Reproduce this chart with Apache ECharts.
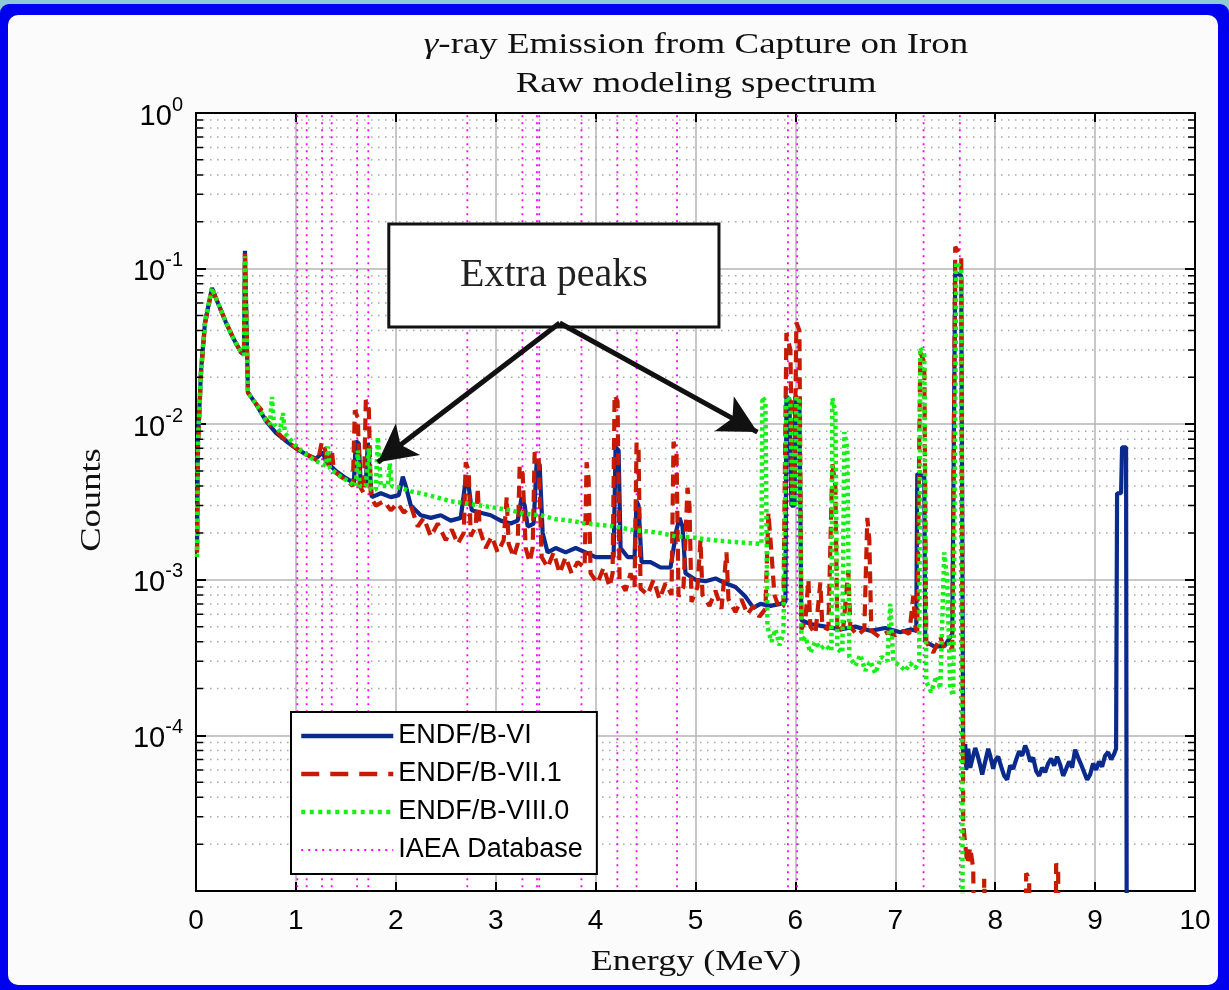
<!DOCTYPE html>
<html>
<head>
<meta charset="utf-8">
<script src="https://cdn.jsdelivr.net/npm/echarts@6/dist/echarts.min.js"></script>
<style>
  html, body { margin: 0; padding: 0; width: 1229px; height: 990px; overflow: hidden; background: #8ecad6; }
  #frame { position: absolute; left: 0; top: 4px; width: 1229px; height: 986px; background: #0000f0; border-radius: 9px 9px 0 0; }
  #paper { position: absolute; left: 8px; top: 15px; width: 1210px; height: 970px; background: #fbfbfb; border-radius: 10px; }
  #chart { position: absolute; left: 0; top: 0; width: 1229px; height: 990px; }
</style>
</head>
<body>
<div id="frame"></div>
<div id="paper"></div>
<div id="chart"></div>
<script>
// ---- Spectra: [energy (MeV), counts] ----
const endfB6 = [
  [0.01,1.5e-3],[0.02,8e-3],[0.05,0.022],[0.09,0.045],[0.16,0.075],[0.22,0.06],[0.30,0.045],[0.38,0.035],
  [0.45,0.029],[0.48,0.028],[0.49,0.13],[0.51,0.13],[0.52,0.016],[0.60,0.0135],[0.70,0.0105],[0.80,0.0088],
  [0.90,0.0078],[1.00,0.0070],[1.10,0.0064],[1.20,0.0060],[1.27,0.0066],[1.30,0.0058],[1.40,0.0050],[1.50,0.0045],
  [1.58,0.0042],[1.60,0.0078],[1.63,0.0075],[1.65,0.0040],[1.70,0.0042],[1.72,0.0076],[1.74,0.0050],[1.76,0.0034],
  [1.85,0.0036],[1.95,0.0034],[2.03,0.0035],[2.07,0.0046],[2.10,0.0040],[2.15,0.0030],[2.25,0.0026],[2.35,0.0025],
  [2.45,0.0026],[2.55,0.0024],[2.65,0.0025],[2.70,0.0044],[2.73,0.0040],[2.76,0.0028],[2.85,0.0027],[2.95,0.0026],
  [3.05,0.0024],[3.15,0.0023],[3.22,0.0024],[3.26,0.0034],[3.29,0.0030],[3.32,0.0022],[3.38,0.0023],[3.41,0.0057],
  [3.44,0.0055],[3.47,0.0020],[3.52,0.0015],[3.60,0.0016],[3.70,0.0015],[3.80,0.0016],[3.90,0.0015],[4.00,0.0014],
  [4.10,0.0014],[4.18,0.0014],[4.20,0.0071],[4.23,0.0068],[4.25,0.0016],[4.32,0.0014],[4.39,0.0014],[4.41,0.0032],
  [4.43,0.0030],[4.46,0.0013],[4.55,0.0013],[4.65,0.0012],[4.75,0.0012],[4.81,0.0021],[4.84,0.0025],[4.87,0.0022],
  [4.90,0.0011],[5.00,0.0010],[5.10,0.00098],[5.20,0.00102],[5.30,0.00095],[5.40,0.00090],[5.50,0.00078],[5.58,0.00066],
  [5.65,0.00070],[5.75,0.00068],[5.85,0.00070],[5.90,0.00072],[5.91,0.0150],[5.94,0.0145],[5.96,0.0030],[5.99,0.0030],
  [6.00,0.0150],[6.04,0.0140],[6.06,0.00055],[6.15,0.00052],[6.30,0.00050],[6.45,0.00048],[6.60,0.00050],[6.75,0.00047],
  [6.90,0.00049],[7.05,0.00046],[7.15,0.00048],[7.21,0.00047],[7.22,0.0048],[7.29,0.0046],[7.30,0.00040],[7.40,0.00037],
  [7.50,0.00038],[7.57,0.00045],[7.60,0.094],[7.66,0.090],[7.68,7.5e-5],[7.70,8.8e-5],[7.71,6.0e-5],[7.73,8.2e-5],
  [7.75,6.2e-5],[7.77,7.0e-5],[7.80,8.3e-5],[7.82,7.6e-5],[7.85,6.4e-5],[7.87,5.6e-5],[7.90,6.8e-5],[7.93,8.2e-5],
  [7.95,7.4e-5],[7.98,6.1e-5],[8.00,6.9e-5],[8.03,7.3e-5],[8.06,6.3e-5],[8.09,5.5e-5],[8.12,5.2e-5],[8.15,6.4e-5],
  [8.18,6.1e-5],[8.21,7.0e-5],[8.24,7.9e-5],[8.27,7.4e-5],[8.30,8.6e-5],[8.32,8.0e-5],[8.35,6.8e-5],[8.38,7.2e-5],
  [8.41,5.9e-5],[8.44,5.5e-5],[8.47,6.2e-5],[8.50,5.8e-5],[8.53,6.6e-5],[8.56,7.1e-5],[8.59,6.4e-5],[8.62,7.3e-5],
  [8.65,6.5e-5],[8.68,5.5e-5],[8.71,6.1e-5],[8.74,6.8e-5],[8.77,6.2e-5],[8.80,8.1e-5],[8.83,7.2e-5],[8.86,6.5e-5],
  [8.89,5.8e-5],[8.92,5.2e-5],[8.95,5.6e-5],[8.98,6.6e-5],[9.01,6.0e-5],[9.04,6.8e-5],[9.07,6.3e-5],[9.10,7.4e-5],
  [9.13,7.8e-5],[9.16,7.0e-5],[9.19,7.6e-5],[9.21,8.2e-5],[9.22,3.6e-3],[9.26,3.6e-3],[9.27,7.1e-3],[9.31,7.1e-3],
  [9.32,1e-7]
];

const endfB71 = [
  [0.01,1.5e-3],[0.02,7e-3],[0.05,0.021],[0.09,0.044],[0.16,0.074],[0.22,0.06],[0.30,0.045],[0.38,0.035],
  [0.45,0.029],[0.48,0.028],[0.49,0.125],[0.51,0.125],[0.52,0.016],[0.60,0.0135],[0.65,0.0125],[0.68,0.0112],
  [0.75,0.0098],[0.85,0.0084],[0.95,0.0074],[1.05,0.0067],[1.15,0.0062],[1.22,0.0058],[1.26,0.0077],[1.29,0.0070],
  [1.32,0.0054],[1.36,0.0068],[1.38,0.0050],[1.45,0.0046],[1.52,0.0043],[1.57,0.0040],[1.59,0.0123],[1.62,0.0110],
  [1.64,0.0040],[1.68,0.0036],[1.70,0.0143],[1.73,0.0125],[1.75,0.0034],[1.80,0.0030],[1.88,0.0032],[1.95,0.0028],
  [2.02,0.0031],[2.08,0.0027],[2.15,0.0030],[2.22,0.0022],[2.28,0.0025],[2.35,0.0019],[2.42,0.0023],[2.50,0.0018],
  [2.56,0.0021],[2.62,0.0017],[2.68,0.0020],[2.70,0.0057],[2.73,0.0050],[2.75,0.0019],[2.80,0.0022],[2.82,0.0039],
  [2.84,0.0021],[2.90,0.0016],[2.96,0.0019],[3.02,0.0015],[3.08,0.0018],[3.11,0.0034],[3.13,0.0017],[3.18,0.0014],
  [3.22,0.0017],[3.24,0.0054],[3.27,0.0048],[3.30,0.0016],[3.34,0.0013],[3.37,0.0016],[3.39,0.0066],[3.43,0.0060],
  [3.46,0.0014],[3.52,0.0012],[3.58,0.0015],[3.64,0.0011],[3.70,0.0014],[3.76,0.0011],[3.82,0.0013],[3.89,0.0012],
  [3.91,0.0057],[3.93,0.0045],[3.95,0.0011],[4.02,0.00095],[4.08,0.0012],[4.14,0.00090],[4.17,0.0011],[4.19,0.0154],
  [4.22,0.0140],[4.24,0.0010],[4.30,0.00085],[4.35,0.0011],[4.39,0.0009],[4.41,0.0076],[4.43,0.0068],[4.45,0.00088],
  [4.52,0.00080],[4.58,0.0010],[4.64,0.00075],[4.70,0.00095],[4.76,0.00080],[4.78,0.0077],[4.81,0.0065],[4.83,0.00078],
  [4.88,0.0009],[4.92,0.0039],[4.94,0.0030],[4.96,0.00072],[5.02,0.0009],[5.05,0.0018],[5.07,0.00080],[5.14,0.00068],
  [5.20,0.00085],[5.26,0.00065],[5.31,0.0015],[5.33,0.00075],[5.40,0.00062],[5.46,0.00075],[5.52,0.00060],[5.58,0.00068],
  [5.64,0.00058],[5.70,0.00065],[5.73,0.0027],[5.76,0.0015],[5.79,0.0008],[5.84,0.00065],[5.88,0.00068],[5.91,0.0386],
  [5.95,0.030],[5.97,0.0035],[5.99,0.0040],[6.01,0.045],[6.04,0.040],[6.06,0.00048],[6.10,0.00055],[6.13,0.0010],
  [6.15,0.00050],[6.20,0.00045],[6.25,0.00096],[6.27,0.00050],[6.33,0.00048],[6.37,0.0056],[6.40,0.0040],[6.42,0.00046],
  [6.48,0.00050],[6.53,0.00115],[6.55,0.00050],[6.62,0.00044],[6.69,0.00048],[6.72,0.0025],[6.74,0.0018],[6.76,0.00047],
  [6.84,0.00043],[6.92,0.00046],[7.00,0.00044],[7.08,0.00047],[7.14,0.00045],[7.18,0.00079],[7.20,0.00050],[7.22,0.00046],
  [7.25,0.029],[7.29,0.025],[7.31,0.00040],[7.38,0.00034],[7.45,0.00043],[7.50,0.00035],[7.57,0.00036],[7.60,0.138],
  [7.66,0.120],[7.68,2.7e-5],[7.70,2.0e-5],[7.72,1.5e-5],[7.75,1.9e-5],[7.78,1.4e-5],[7.80,1e-6],[7.88,1e-6],
  [7.89,1.2e-5],[7.91,1.2e-5],[7.92,1e-6],[8.30,1e-6],[8.31,1.3e-5],[8.34,1.2e-5],[8.35,1e-6],[8.60,1e-6],
  [8.61,1.5e-5],[8.63,1.4e-5],[8.64,1e-6],[10.0,1e-6]
];

const endfB80 = [
  [0.01,1.4e-3],[0.02,8e-3],[0.05,0.022],[0.09,0.046],[0.16,0.075],[0.22,0.06],[0.30,0.045],[0.38,0.035],
  [0.45,0.029],[0.48,0.028],[0.49,0.12],[0.51,0.12],[0.52,0.016],[0.60,0.0135],[0.70,0.0106],[0.74,0.0100],
  [0.76,0.0150],[0.78,0.0100],[0.84,0.0090],[0.87,0.0118],[0.89,0.0088],[1.00,0.0072],[1.10,0.0064],[1.20,0.0058],
  [1.30,0.0054],[1.32,0.0072],[1.34,0.0052],[1.45,0.0046],[1.55,0.0042],[1.60,0.0040],[1.62,0.0068],[1.64,0.0040],
  [1.70,0.0040],[1.73,0.0070],[1.75,0.0038],[1.80,0.0038],[1.82,0.0083],[1.85,0.0040],[1.92,0.0040],[1.94,0.0056],
  [1.96,0.0040],[2.05,0.0039],[2.15,0.0037],[2.25,0.0036],[2.40,0.0034],[2.55,0.0032],[2.70,0.0031],[2.85,0.0030],
  [3.00,0.0029],[3.15,0.0028],[3.30,0.00265],[3.45,0.0026],[3.60,0.00245],[3.75,0.0024],[3.90,0.0023],[4.05,0.00225],
  [4.20,0.0022],[4.35,0.0021],[4.50,0.00205],[4.65,0.0020],[4.80,0.0019],[4.95,0.00188],[5.10,0.00182],[5.25,0.00178],
  [5.40,0.00175],[5.55,0.00172],[5.66,0.0017],[5.67,0.0150],[5.70,0.0140],[5.72,0.00050],[5.76,0.00040],[5.80,0.00048],
  [5.84,0.00038],[5.88,0.00045],[5.91,0.0150],[5.95,0.0140],[5.97,0.0030],[6.00,0.0030],[6.01,0.0150],[6.04,0.0140],
  [6.06,0.00040],[6.10,0.00043],[6.15,0.00034],[6.20,0.00040],[6.25,0.00036],[6.30,0.00038],[6.36,0.00035],[6.37,0.0147],
  [6.40,0.0120],[6.42,0.00036],[6.47,0.00034],[6.49,0.0089],[6.52,0.0070],[6.54,0.00032],[6.60,0.00028],[6.65,0.00033],
  [6.70,0.00026],[6.75,0.00030],[6.80,0.00025],[6.86,0.00032],[6.92,0.00030],[6.95,0.0007],[6.98,0.00030],[7.05,0.00028],
  [7.10,0.00026],[7.15,0.00029],[7.20,0.00027],[7.24,0.00030],[7.25,0.031],[7.29,0.028],[7.31,0.00022],[7.36,0.00019],
  [7.41,0.00024],[7.45,0.00020],[7.49,0.0015],[7.52,0.0010],[7.55,0.00020],[7.58,0.00018],[7.61,0.11],[7.66,0.10],
  [7.68,1e-7]
];

// IAEA capture gamma energies (MeV)
const iaeaLines = [1.014, 1.108, 1.262, 1.358, 1.613, 1.725, 2.716, 3.268, 3.413, 3.436, 3.858,
                   4.218, 4.410, 4.815, 5.925, 6.018, 7.283, 7.646];

const seriesNames = ['ENDF/B-VI', 'ENDF/B-VII.1', 'ENDF/B-VIII.0', 'IAEA Database'];
const xTicks = [0, 1, 2, 3, 4, 5, 6, 7, 8, 9, 10];
const yDecades = [1e-5, 1e-4, 1e-3, 1e-2, 1e-1, 1];

// "Extra peaks" callout, in data coordinates
const calloutBox = [[1.93, 0.1934], [5.235, 0.0421]];
const calloutFrom = [3.64, 0.0447];
const calloutTargets = [[1.82, 5.7e-3], [5.62, 8.9e-3]];

// ---- helpers building line segments for grid / reference lines ----
const xMin = xTicks[0], xMax = xTicks[xTicks.length - 1];
const yMin = yDecades[0], yMax = yDecades[yDecades.length - 1];
const minorValues = [];
for (let d = 0; d < yDecades.length - 1; d++) {
  for (let k = 2; k <= 9; k++) minorValues.push(k * yDecades[d]);
}
const minorGridData = [];
const minorTickData = [];
minorValues.forEach(v => {
  minorGridData.push([xMin, v], [xMax, v], [xMin, '-']);
  minorTickData.push([xMin, v], [xMin + 0.07, v], [xMin, '-'], [xMax - 0.07, v], [xMax, v], [xMax, '-']);
});
const iaeaData = [];
iaeaLines.forEach(e => iaeaData.push([e, 1e-7], [e, 10], [e, '-']));

const sans = 'Liberation Sans';
const serif = 'Liberation Serif';

const chart = echarts.init(document.getElementById('chart'), null, { renderer: 'canvas' });

const valueAxisCommon = {
  min: xMin, max: xMax, interval: 1,
  axisLine: { show: true, onZero: false, lineStyle: { color: '#000', width: 2 } },
  axisTick: { show: true, inside: true, length: 9, lineStyle: { color: '#000', width: 2 } }
};

// legend samples: heavier strokes than the plotted curves
const legendLines = [
  { width: 4.5, type: 'solid' },
  { width: 4.5, type: [18, 11] },
  { width: 4.5, type: [4, 4.5] },
  { width: 2, type: [2, 5] }
];

const option = {
  animation: false,
  backgroundColor: 'transparent',
  grid: { left: 196, right: 34, top: 113, bottom: 99, containLabel: false, outerBoundsMode: 'none',
          show: true, backgroundColor: '#ffffff', borderWidth: 0 },
  xAxis: [
    Object.assign({ type: 'value', position: 'bottom',
      axisLabel: { show: true, margin: 16, fontFamily: sans, fontSize: 28, color: '#000',
                   formatter: v => String(v) },
      splitLine: { show: true, lineStyle: { color: '#b4b4b4', width: 1.5 } } }, valueAxisCommon),
    Object.assign({ type: 'value', position: 'top', axisLabel: { show: false }, splitLine: { show: false } },
      valueAxisCommon)
  ],
  yAxis: [
    { type: 'log', logBase: 10, min: yMin, max: yMax, position: 'left',
      axisLine: { show: true, onZero: false, lineStyle: { color: '#000', width: 2 } },
      axisTick: { show: true, inside: true, length: 10, lineStyle: { color: '#000', width: 2 } },
      axisLabel: {
        show: true, margin: 13, showMinLabel: false,
        formatter: v => '{b|10}{s|' + Math.round(Math.log10(v)) + '}',
        rich: {
          b: { fontFamily: sans, fontSize: 29, color: '#000', verticalAlign: 'bottom', lineHeight: 36 },
          s: { fontFamily: sans, fontSize: 20, color: '#000', verticalAlign: 'top', lineHeight: 36 }
        }
      },
      splitLine: { show: true, lineStyle: { color: '#b4b4b4', width: 1.5 } } },
    { type: 'log', logBase: 10, min: yMin, max: yMax, position: 'right',
      axisLine: { show: true, onZero: false, lineStyle: { color: '#000', width: 2 } },
      axisTick: { show: true, inside: true, length: 10, lineStyle: { color: '#000', width: 2 } },
      axisLabel: { show: false }, splitLine: { show: false } }
  ],
  legend: {
    data: seriesNames.map((n, i) => ({ name: n, lineStyle: legendLines[i] })),
    icon: 'inherit',
    itemStyle: { opacity: 0 },
    orient: 'vertical', left: 291, top: 712,
    padding: [10, 14, 10, 8],
    itemWidth: 92, itemHeight: 14, itemGap: 10,
    backgroundColor: '#ffffff', borderColor: '#000', borderWidth: 2,
    textStyle: { fontFamily: sans, fontSize: 27, color: '#000', lineHeight: 28 }
  },
  graphic: [
    { type: 'text', x: 696, y: 45, scaleX: 1.23, silent: true,
      style: { text: '{g|γ}-ray Emission from Capture on Iron', fontFamily: serif, fontSize: 30, fill: '#111',
               align: 'center', verticalAlign: 'middle',
               rich: { g: { fontFamily: serif, fontSize: 30, fontStyle: 'italic', fill: '#111' } } } },
    { type: 'text', x: 696, y: 84, scaleX: 1.23, silent: true,
      style: { text: 'Raw modeling spectrum', fontFamily: serif, fontSize: 30, fill: '#111',
               align: 'center', verticalAlign: 'middle' } },
    { type: 'text', x: 696, y: 962, scaleX: 1.2, silent: true,
      style: { text: 'Energy (MeV)', fontFamily: serif, fontSize: 30, fill: '#111',
               align: 'center', verticalAlign: 'middle' } },
    { type: 'text', x: 92, y: 500, rotation: Math.PI / 2, scaleX: 1.22, silent: true,
      style: { text: 'Counts', fontFamily: serif, fontSize: 30, fill: '#111',
               align: 'center', verticalAlign: 'middle' } }
  ],
  series: [
    { name: 'minor grid', type: 'line', data: minorGridData, symbol: 'none', silent: true, z: 0.5,
      lineStyle: { color: '#a8a8a8', width: 1.5, type: [1.5, 5.5] } },
    { name: seriesNames[3], type: 'line', data: iaeaData, symbol: 'none', z: 0.8,
      lineStyle: { color: '#ff00ff', width: 1.8, type: [2, 5] }, itemStyle: { color: '#ff00ff' } },
    { name: seriesNames[0], type: 'line', data: endfB6, symbol: 'none', z: 2,
      lineStyle: { color: '#0a2a8c', width: 4.2 }, itemStyle: { color: '#0a2a8c' } },
    { name: seriesNames[1], type: 'line', data: endfB71, symbol: 'none', z: 2.1,
      lineStyle: { color: '#c81a00', width: 4.2, type: [12, 7] }, itemStyle: { color: '#c81a00' } },
    { name: seriesNames[2], type: 'line', data: endfB80, symbol: 'none', z: 2.2,
      lineStyle: { color: '#16f016', width: 4.5, type: [3.5, 3.5] }, itemStyle: { color: '#16f016' } },
    { name: 'minor ticks', type: 'line', data: minorTickData, symbol: 'none', silent: true, z: 6,
      lineStyle: { color: '#000', width: 1.5 } },
    { name: 'callout', type: 'line', data: [], symbol: 'none', silent: true, z: 7,
      markArea: {
        silent: true,
        itemStyle: { color: '#ffffff', borderColor: '#111', borderWidth: 3 },
        label: { show: true, position: 'inside', formatter: 'Extra peaks',
                 fontFamily: serif, fontSize: 40, color: '#222' },
        data: [[{ coord: calloutBox[0] }, { coord: calloutBox[1] }]]
      },
      markLine: {
        silent: true, symbol: ['none', 'arrow'], symbolSize: [30, 38],
        lineStyle: { color: '#111', width: 5, type: 'solid' },
        label: { show: false },
        data: calloutTargets.map(t => [{ coord: calloutFrom }, { coord: t }])
      } }
  ]
};

chart.setOption(option);
</script>
</body>
</html>
